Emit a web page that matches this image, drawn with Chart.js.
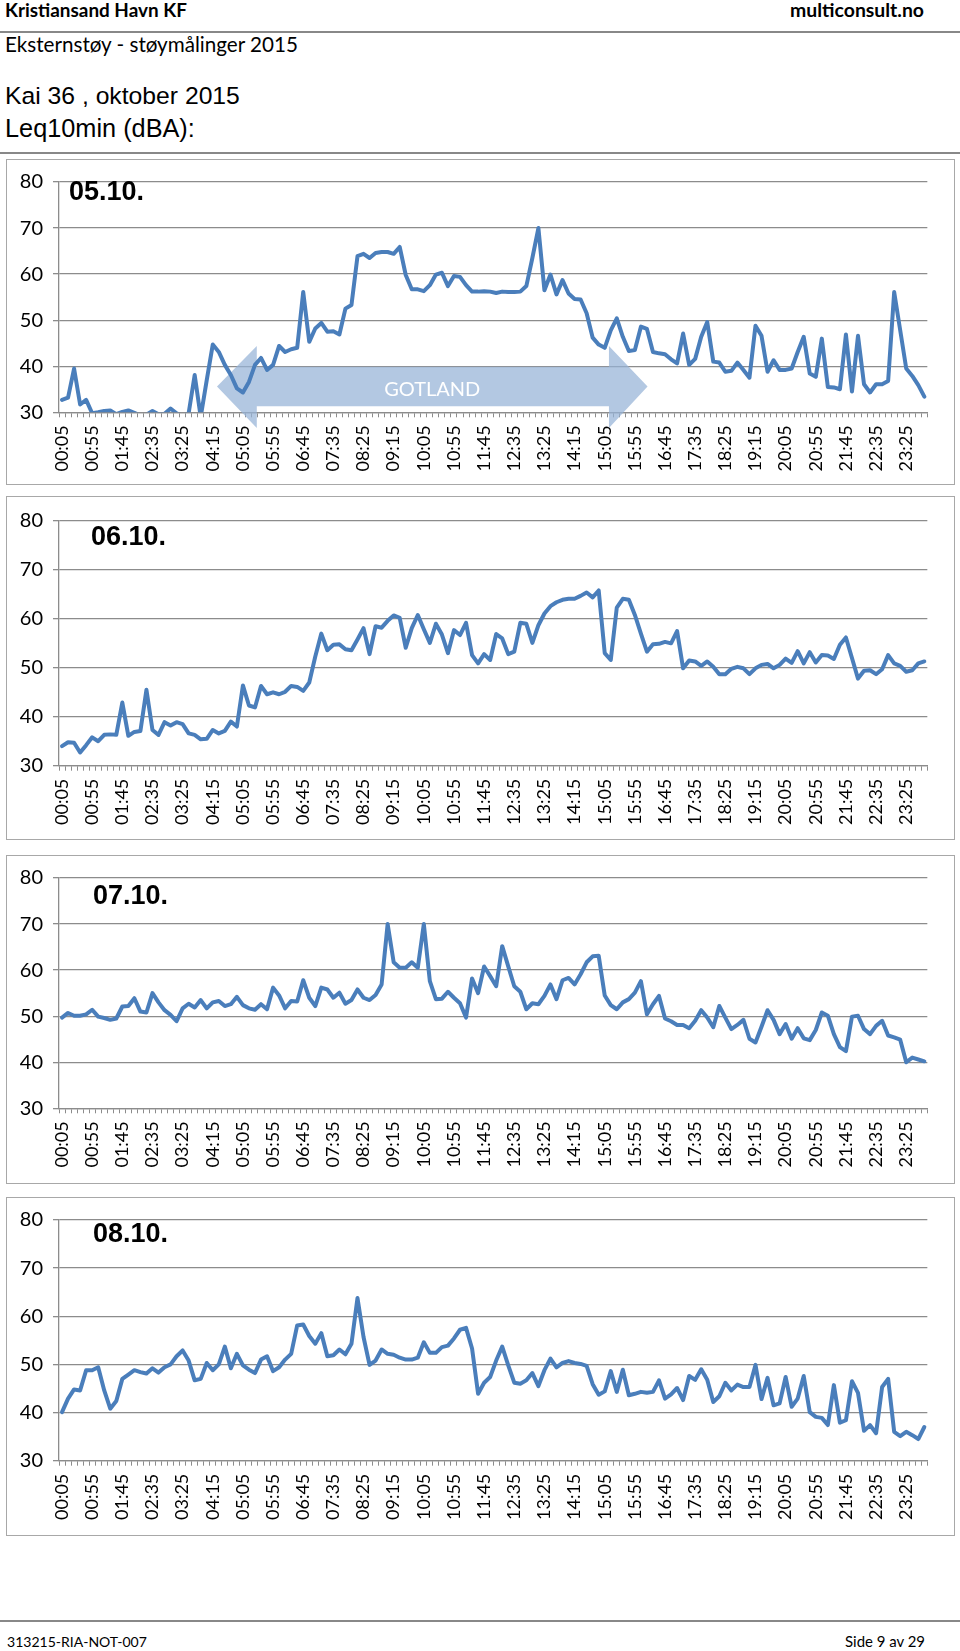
<!DOCTYPE html>
<html>
<head>
<meta charset="utf-8">
<script src="https://cdn.jsdelivr.net/npm/chart.js@4.4.1/dist/chart.umd.min.js"></script>
<style>
body{margin:0;background:#fff;}
#page{position:relative;width:960px;height:1651px;overflow:hidden;font-family:Lato,sans-serif;color:#000;}
.t{position:absolute;white-space:nowrap;line-height:1;}
.rule{position:absolute;left:0;width:960px;height:1.5px;background:#888;}
.panel{position:absolute;left:6px;width:949px;box-sizing:border-box;border:1px solid #a8a8a8;}
.panel canvas{position:absolute;left:0;top:0;}
.day{font-family:"Liberation Sans",Arial,sans-serif;font-weight:bold;font-size:27px;}
</style>
</head>
<body>
<div id="page">
  <div class="t" style="left:5px;font-weight:bold;font-size:19px" data-b="17" data-w="182">Kristiansand Havn KF</div>
  <div class="t" style="font-weight:bold;font-size:19px" data-b="17" data-w="134" data-r="924">multiconsult.no</div>
  <div class="rule" style="top:31px"></div>
  <div class="t" style="left:5px;font-size:19px" data-b="52" data-w="293">Eksternstøy - støymålinger 2015</div>
  <div class="t" style="left:5px;font-family:'Liberation Sans',Arial,sans-serif;font-size:24.5px" data-b="104" data-w="235">Kai 36 , oktober 2015</div>
  <div class="t" style="left:5px;font-family:'Liberation Sans',Arial,sans-serif;font-size:24.5px" data-b="137" data-w="190">Leq10min (dBA):</div>
  <div class="rule" style="top:152px"></div>

  <div class="panel" id="p1"><canvas id="c1"></canvas></div>
  <div class="panel" id="p2"><canvas id="c2"></canvas></div>
  <div class="panel" id="p3"><canvas id="c3"></canvas></div>
  <div class="panel" id="p4"><canvas id="c4"></canvas></div>

  <div class="t day" style="left:69px" data-b="200">05.10.</div>
  <div class="t day" style="left:91px" data-b="545">06.10.</div>
  <div class="t day" style="left:93px" data-b="904">07.10.</div>
  <div class="t day" style="left:93px" data-b="1242">08.10.</div>

  <div class="rule" style="top:1620px"></div>
  <div class="t" style="left:7px;font-size:16px" data-b="1647" data-w="140">313215-RIA-NOT-007</div>
  <div class="t" style="font-size:16px" data-b="1647" data-w="80" data-r="925">Side 9 av 29</div>
</div>

<script>
// Leq10min (dBA), one value per 10 minutes, 00:05 .. 23:55
var day0510 = [32.7,33.2,39.5,31.7,32.7,29.8,30.0,30.3,30.4,29.6,30.1,30.4,29.9,29.3,29.5,30.3,29.6,29.7,30.8,29.8,
  29.2,29.8,38.1,29.0,37.0,44.7,43.1,40.3,38.1,35.2,34.3,36.6,40.3,41.8,39.2,40.3,44.4,43.1,43.7,44.0,
  56.1,45.3,48.2,49.4,47.5,47.6,46.9,52.5,53.3,63.9,64.4,63.5,64.6,64.8,64.8,64.4,65.9,59.8,56.7,56.7,
  56.3,57.6,59.9,60.3,57.4,59.6,59.4,57.6,56.2,56.2,56.3,56.2,55.9,56.2,56.1,56.1,56.2,57.4,63.5,70.0,
  56.5,59.9,55.6,58.7,55.8,54.6,54.5,51.5,46.2,44.7,44.0,47.8,50.4,46.4,43.3,43.5,48.6,48.1,43.1,42.8,
  42.6,41.5,40.6,47.1,40.3,41.6,46.4,49.6,41.0,40.8,38.8,39.0,40.8,39.2,37.5,48.8,46.6,38.8,41.3,39.2,
  39.2,39.5,43.1,46.4,38.4,37.7,46.0,35.5,35.4,35.0,46.9,34.5,46.6,36.1,34.3,36.1,36.1,36.8,56.1,47.8,
  39.5,37.9,35.9,33.4];
var day0610 = [34.0,34.8,34.7,32.7,34.2,35.8,35.0,36.3,36.4,36.3,42.9,36.1,36.9,37.1,45.5,37.3,36.3,38.9,38.2,38.9,
  38.5,36.6,36.3,35.4,35.5,37.3,36.6,37.1,39.0,38.0,46.4,42.3,41.9,46.3,44.6,45.0,44.6,45.1,46.3,46.1,
  45.3,47.0,52.3,57.0,53.6,54.7,54.8,53.8,53.6,55.8,58.1,52.8,58.5,58.2,59.6,60.7,60.2,54.1,58.1,60.8,
  57.9,55.1,59.0,56.8,53.0,57.7,56.7,59.2,52.6,50.9,52.8,51.6,56.9,56.0,52.8,53.3,59.2,59.0,55.1,58.7,
  61.1,62.6,63.4,63.9,64.1,64.1,64.7,65.4,64.4,65.8,53.0,51.6,62.3,64.1,63.9,60.8,57.0,53.3,54.8,54.9,
  55.3,55.0,57.5,49.9,51.5,51.3,50.4,51.3,50.2,48.7,48.7,49.8,50.2,49.9,48.7,49.9,50.6,50.8,49.9,50.6,
  51.9,51.0,53.4,50.9,53.2,51.1,52.6,52.5,51.8,54.7,56.2,52.0,47.8,49.4,49.5,48.7,49.7,52.6,50.9,50.4,
  49.2,49.5,50.9,51.3];
var day0710 = [49.7,50.7,50.1,50.1,50.4,51.4,49.9,49.6,49.2,49.5,52.1,52.2,53.9,51.0,50.8,55.0,53.0,51.3,50.3,48.9,
  51.7,52.7,51.9,53.5,51.7,53.0,53.3,52.2,52.6,54.2,52.4,51.7,51.4,52.6,51.5,56.2,54.5,51.7,53.3,53.2,
  57.8,54.0,52.2,56.2,55.8,54.0,55.1,52.7,53.5,55.8,54.0,53.5,54.6,56.9,70.0,61.7,60.5,60.5,61.7,60.5,
  70.0,57.6,53.7,53.8,55.3,54.0,52.8,49.7,58.2,55.0,60.8,58.7,56.5,65.2,60.8,56.5,55.3,51.5,52.8,52.6,
  54.4,56.9,53.7,57.8,58.3,56.9,59.1,61.7,63.0,63.1,54.5,52.4,51.5,53.0,53.7,55.1,57.6,50.4,52.6,54.4,
  49.5,48.9,48.1,48.1,47.4,49.0,51.3,49.7,47.6,52.2,49.7,47.2,48.1,49.2,45.1,44.3,47.7,51.3,49.2,46.1,
  48.3,45.1,47.4,45.2,44.8,47.0,50.8,50.1,46.1,43.3,42.4,49.9,50.1,47.2,46.1,47.9,49.0,45.8,45.4,44.9,
  40.0,41.0,40.6,40.2];
var day0810 = [40.1,42.9,44.8,44.6,48.8,48.8,49.4,44.6,40.8,42.4,47.0,47.9,48.8,48.4,48.1,49.2,48.3,49.4,50.0,51.7,
  52.9,50.8,46.7,47.0,50.3,48.8,50.0,53.7,49.2,52.2,49.8,48.9,48.2,51.0,51.7,48.6,49.4,51.0,52.2,58.1,
  58.3,55.9,54.3,56.5,51.7,51.9,53.1,52.1,54.3,63.8,55.7,49.9,50.8,53.1,52.2,52.0,51.4,51.0,51.0,51.4,
  54.6,52.4,52.4,53.6,53.9,55.4,57.2,57.6,53.3,43.9,46.2,47.4,50.8,53.7,49.8,46.2,46.0,46.7,48.2,45.5,
  48.8,51.2,49.4,50.3,50.7,50.3,50.1,49.7,45.9,43.7,44.4,48.6,44.3,48.9,43.6,43.9,44.3,44.1,44.3,46.7,
  42.9,43.8,45.1,42.6,47.6,46.8,49.0,46.8,42.2,43.4,46.2,44.6,45.8,45.3,45.3,49.9,42.8,47.2,41.5,41.9,
  47.4,41.2,42.9,47.6,40.1,39.1,38.9,37.4,45.7,37.9,38.4,46.5,44.1,36.2,37.4,35.7,45.3,47.0,36.0,35.1,
  36.0,35.3,34.5,37.0];

var times = [];
for (var m = 5; m < 1440; m += 10) {
  times.push(String(Math.floor(m / 60)).padStart(2, '0') + ':' + String(m % 60).padStart(2, '0'));
}

// panel box (page px) and where 80 / 30 dB sit
var panels = [
  {id: 'c1', box: 'p1', top: 159, bottom: 484, y80: 181.7, y30: 412.3, values: day0510},
  {id: 'c2', box: 'p2', top: 496, bottom: 839, y80: 521, y30: 765.7, values: day0610},
  {id: 'c3', box: 'p3', top: 855, bottom: 1183, y80: 876, y30: 1108.3, values: day0710},
  {id: 'c4', box: 'p4', top: 1197, bottom: 1535, y80: 1219, y30: 1460.7, values: day0810}
];

// GOTLAND arrow in the first panel, in category index / dB units
var gotland = {tipL: 25.7, baseL: 32.3, baseR: 90.7, tipR: 97.1, mid: 35.6,
  shaftTop: 39.9, shaftBot: 31.3, headTop: 44.4, headBot: 26.6, textX: 61.4, textY: 35.0};

var gotlandArrow = {
  id: 'gotlandArrow',
  beforeDatasetsDraw: function (chart) {
    var x = chart.scales.x, y = chart.scales.y, c = chart.ctx, g = gotland;
    var px = function (v) { return x.getPixelForValue(v); };
    var py = function (v) { return y.getPixelForValue(v); };
    c.save();
    c.fillStyle = 'rgba(149,179,215,0.72)';
    c.beginPath();
    c.moveTo(px(g.tipL), py(g.mid));
    c.lineTo(px(g.baseL), py(g.headTop));
    c.lineTo(px(g.baseL), py(g.shaftTop));
    c.lineTo(px(g.baseR), py(g.shaftTop));
    c.lineTo(px(g.baseR), py(g.headTop));
    c.lineTo(px(g.tipR), py(g.mid));
    c.lineTo(px(g.baseR), py(g.headBot));
    c.lineTo(px(g.baseR), py(g.shaftBot));
    c.lineTo(px(g.baseL), py(g.shaftBot));
    c.lineTo(px(g.baseL), py(g.headBot));
    c.closePath();
    c.fill();
    c.fillStyle = '#ffffff';
    c.font = '20px Lato';
    c.textAlign = 'center';
    c.textBaseline = 'middle';
    c.fillText('GOTLAND', px(g.textX), py(g.textY));
    c.restore();
  }
};

panels.forEach(function (p, k) {
  var box = document.getElementById(p.box);
  box.style.top = p.top + 'px';
  box.style.height = (p.bottom - p.top + 1) + 'px';
  var cv = document.getElementById(p.id);
  cv.width = 947;
  cv.height = p.bottom - p.top - 1;

  new Chart(cv, {
    type: 'line',
    data: {
      labels: times,
      datasets: [{
        data: p.values,
        borderColor: '#4a7ebb',
        borderWidth: 4,
        pointRadius: 0,
        tension: 0,
        borderJoinStyle: 'round',
        borderCapStyle: 'round'
      }]
    },
    options: {
      responsive: false,
      animation: false,
      events: [],
      layout: {padding: {top: p.y80 - (p.top + 1), right: 22, left: 0, bottom: 0}},
      plugins: {legend: {display: false}, tooltip: {enabled: false}},
      scales: {
        x: {
          offset: true,
          grid: {offset: true, drawOnChartArea: false, drawTicks: true, tickLength: 5, color: '#8c8c8c', lineWidth: 1},
          border: {color: '#8c8c8c', width: 1.3},
          ticks: {
            autoSkip: false, minRotation: 90, maxRotation: 90, padding: 8, color: '#000',
            font: {family: 'Lato', size: 18},
            callback: function (v, i) { return i % 5 === 0 ? this.getLabelForValue(v) : ''; }
          },
          afterFit: function (s) { s.height = p.bottom - p.y30; }
        },
        y: {
          min: 30, max: 80,
          ticks: {stepSize: 10, padding: 10, color: '#000', font: {family: 'Lato', size: 20}},
          grid: {color: '#8c8c8c', lineWidth: 1.3, tickLength: 6},
          border: {color: '#8c8c8c', width: 1.3},
          afterFit: function (s) { s.width = 52; }
        }
      }
    },
    plugins: k === 0 ? [gotlandArrow] : []
  });
});

// put text on its baseline, optionally fit to a width / right edge
document.querySelectorAll('.t').forEach(function (el) {
  var mk = document.createElement('span');
  mk.style.cssText = 'display:inline-block;width:0;height:0;';
  el.appendChild(mk);
  if (el.dataset.w) {
    var fs = parseFloat(getComputedStyle(el).fontSize);
    el.style.fontSize = (fs * el.dataset.w / el.getBoundingClientRect().width) + 'px';
  }
  if (el.dataset.r) el.style.left = (el.dataset.r - el.getBoundingClientRect().width) + 'px';
  el.style.top = (el.dataset.b - mk.offsetTop) + 'px';
  mk.remove();
});
</script>
</body>
</html>
